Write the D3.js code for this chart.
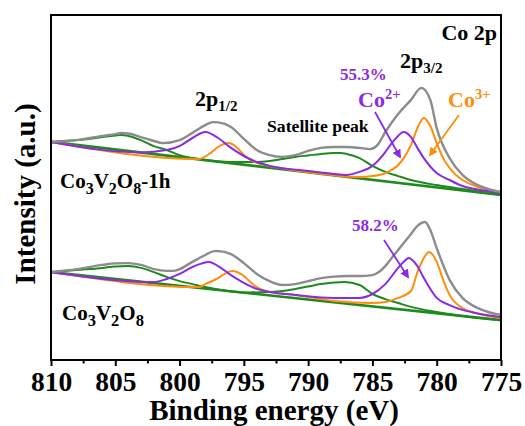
<!DOCTYPE html>
<html><head><meta charset="utf-8">
<script src="https://cdn.jsdelivr.net/npm/d3@7"></script>
<style>
html,body{margin:0;padding:0;background:#fff;}
svg{display:block;font-family:"Liberation Serif","Times New Roman",serif;font-weight:bold;}
</style></head>
<body>
<script>
// ---------- data (binding energy eV, intensity a.u.) ----------
const xTickValues = [810, 805, 800, 795, 790, 785, 780, 775];
const xMinorTicks = [807.5, 802.5, 797.5, 792.5, 787.5, 782.5, 777.5];

// Co3V2O8-1h (upper spectrum)
const topBackground = [[810, 72.7], [775, 55.0]];
const topGray = [[810,72.7],[808,73.3],[806,74.7],[805,75.3],[804.5,75.7],[804,75.5],[803,74.3],[802,73.0],[801.3,72.3],[800,73.3],[799,75.7],[798,78.3],[797.4,79.3],[797,79.2],[796,77.7],[795,73.7],[794,70.0],[793,68.3],[792,67.7],[791,68.3],[790,69.7],[789,70.7],[788,71.0],[787,71.0],[786,70.7],[785.2,70.3],[784.6,71.7],[784,76.0],[783,82.0],[782,86.7],[781.2,90.7],[780.5,86.7],[780,77.3],[779,67.3],[778,61.7],[777,58.7],[776,57.0],[775,56.0]];
const topPurple = [[810,72.7],[803,69.2],[801,70.0],[800,71.3],[799,74.0],[798,76.0],[797,74.0],[796,70.7],[795,68.0],[794,66.0],[793,64.7],[790,63.0],[788,62.0],[787,61.7],[786,62.7],[785,64.7],[784,69.3],[783.5,72.3],[783,74.7],[782.6,76.0],[782,74.3],[781.5,70.7],[781,67.3],[780,62.3],[779,60.0],[778,58.0],[777,57.0],[775,55.7]];
const topOrange = [[810,72.7],[798.5,67.0],[797.5,69.3],[797,71.0],[796.2,72.3],[795.5,70.7],[795,68.3],[794,65.7],[793,64.7],[790,62.6],[786,61.0],[785,61.3],[784,62.3],[783,65.0],[782.5,67.7],[782,71.7],[781.5,77.3],[781,80.7],[780.5,78.0],[780,72.3],[779.5,67.3],[779,64.0],[778,60.0],[777,58.0],[775,56.0]];
const topGreen = [[810,72.7],[808,73.3],[806,74.3],[805,74.8],[804.5,75.0],[804,74.7],[803,73.3],[802,71.3],[801,70.0],[800,68.3],[799,67.3],[797,66.2],[795,66.0],[794,66.0],[793,66.3],[792,67.0],[791,67.7],[790,68.2],[789,68.7],[788,69.0],[787.5,69.0],[787,68.7],[786,67.3],[785,64.7],[784,62.7],[783,61.3],[782,60.0],[780,58.3],[778,57.0],[775,55.3]];

// Co3V2O8 (lower spectrum)
const botBackground = [[810, 29.3], [775, 13.3]];
const botGray = [[810,29.3],[808,30.3],[806,31.7],[805,32.2],[804,32.3],[803,31.7],[802,30.3],[801,29.7],[800.5,29.7],[800,30.3],[799,32.7],[798,35.0],[797.3,36.3],[797,36.3],[796,35.3],[795,32.3],[794,28.7],[793,26.3],[792,25.0],[791,25.3],[790,26.3],[789,27.3],[788,27.8],[787,28.0],[786,28.0],[785,28.3],[784.5,29.3],[784,31.3],[783.5,34.0],[783,36.7],[782,42.0],[781.5,44.7],[780.9,46.0],[780.5,43.3],[780,37.3],[779,26.7],[778,20.7],[777,17.7],[776,16.0],[775,15.0]];
const botPurple = [[810,29.3],[802,26.0],[801,27.0],[800,28.7],[799,31.0],[798,32.5],[797.7,32.7],[797,31.3],[796,28.3],[795,25.7],[794,23.7],[793,22.7],[791,21.7],[788,20.7],[786,20.7],[785,22.0],[784,25.3],[783,30.7],[782.5,33.0],[782.2,34.0],[781.5,31.3],[781,27.3],[780,20.7],[779,18.3],[778,16.7],[777,15.7],[775,14.3]];
const botOrange = [[810,29.3],[798.5,24.3],[798,25.3],[797,27.3],[796.5,28.7],[795.9,29.7],[795,28.0],[794.5,26.0],[794,24.3],[793,22.7],[791,21.7],[788,19.7],[785,19.0],[784,19.3],[783,20.7],[782,23.0],[781.5,29.3],[781,34.0],[780.6,36.0],[780,32.7],[779.5,26.7],[779,21.7],[778,17.3],[777,15.7],[775,14.0]];
const botGreen = [[810,29.3],[808,30.0],[806,30.7],[805,31.2],[804,31.3],[803,30.7],[802,29.3],[801,27.7],[800,26.3],[799,25.3],[798,24.3],[795,22.5],[793,22.7],[792,23.0],[791,23.7],[790,24.5],[789,25.3],[788,25.8],[787.2,26.0],[786,25.0],[785,22.0],[784,20.3],[783,19.0],[782,17.7],[780,16.0],[778,14.7],[775,13.3]];

const colors = {gray:"#8c8c8c", purple:"#8a2be2", orange:"#ff8c0a", green:"#1e8a1e"};

// ---------- layout ----------
const W = 525, H = 426;
const m = {left:51, right:24, top:15, bottom:66};
const iw = W - m.left - m.right, ih = H - m.top - m.bottom;

const svg = d3.select("body").append("svg").attr("width", W).attr("height", H);
const x = d3.scaleLinear().domain([810, 775]).range([m.left, m.left + iw]);
const y = d3.scaleLinear().domain([0, 115]).range([m.top + ih, m.top]);

svg.append("clipPath").attr("id","clip").append("rect")
  .attr("x", m.left).attr("y", m.top).attr("width", iw).attr("height", ih);

const line = d3.line().x(d => x(d[0])).y(d => y(d[1])).curve(d3.curveMonotoneX);
const g = svg.append("g").attr("clip-path","url(#clip)");

function drawSpectrum(bg, green, orange, purple, gray) {
  g.append("path").datum(bg).attr("d", line).attr("fill","none").attr("stroke",colors.green).attr("stroke-width",2.6);
  g.append("path").datum(green).attr("d", line).attr("fill","none").attr("stroke",colors.green).attr("stroke-width",2);
  g.append("path").datum(orange).attr("d", line).attr("fill","none").attr("stroke",colors.orange).attr("stroke-width",2);
  g.append("path").datum(purple).attr("d", line).attr("fill","none").attr("stroke",colors.purple).attr("stroke-width",2);
  g.append("path").datum(gray).attr("d", line).attr("fill","none").attr("stroke",colors.gray).attr("stroke-width",2.4);
}
drawSpectrum(topBackground, topGreen, topOrange, topPurple, topGray);
drawSpectrum(botBackground, botGreen, botOrange, botPurple, botGray);

// ---------- axes ----------
const xAxis = d3.axisBottom(x).tickValues(xTickValues).tickSize(6).tickPadding(5).tickFormat(d3.format("d"));
const ax = svg.append("g").attr("transform",`translate(0,${m.top+ih})`).call(xAxis);
ax.select(".domain").remove();
ax.selectAll(".tick line").attr("stroke","#000").attr("stroke-width",2);
ax.selectAll(".tick text").attr("font-size",27.5).attr("font-weight","bold")
  .attr("font-family","'Liberation Serif','Times New Roman',serif").attr("fill","#000");
const axm = svg.append("g").attr("transform",`translate(0,${m.top+ih})`)
  .call(d3.axisBottom(x).tickValues(xMinorTicks).tickSize(3.5).tickFormat(""));
axm.select(".domain").remove();
axm.selectAll(".tick line").attr("stroke","#000").attr("stroke-width",2);

svg.append("rect").attr("x", m.left).attr("y", m.top).attr("width", iw).attr("height", ih)
  .attr("fill","none").attr("stroke","#000").attr("stroke-width",2);

svg.append("text").attr("x", 274).attr("y", 420).attr("text-anchor","middle")
  .attr("font-size",29).text("Binding energy (eV)");
svg.append("text").attr("transform","translate(35,194) rotate(-90)").attr("text-anchor","middle")
  .attr("font-size",29).text("Intensity (a.u.)");

// ---------- annotations ----------
function rich(t, parts, base, small, shift) {
  parts.forEach(p => {
    const ts = t.append("tspan").text(p[0]);
    if (p[1] === "sub") ts.attr("font-size", small).attr("dy", shift);
    else if (p[1] === "sup") ts.attr("font-size", small).attr("dy", -shift);
    else ts.attr("font-size", base).attr("dy", p[1]);
  });
}
const ann = svg.append("g");
ann.append("text").attr("x", 497).attr("y", 40).attr("text-anchor","end").attr("font-size",22).text("Co 2p");

let t = ann.append("text").attr("x", 400).attr("y", 68);
rich(t, [["2p",0],["3/2","sub"]], 22, 15, 5);
t = ann.append("text").attr("x", 195).attr("y", 106);
rich(t, [["2p",0],["1/2","sub"]], 22, 15, 5);

ann.append("text").attr("x", 340).attr("y", 80).attr("font-size",17).attr("fill",colors.purple).text("55.3%");
t = ann.append("text").attr("x", 358).attr("y", 107).attr("fill",colors.purple);
rich(t, [["Co",0],["2+","sup"]], 22, 14.5, 8);
t = ann.append("text").attr("x", 448).attr("y", 107).attr("fill",colors.orange);
rich(t, [["Co",0],["3+","sup"]], 22, 14.5, 8);

ann.append("text").attr("x", 267).attr("y", 132).attr("font-size",17.7).text("Satellite peak");
ann.append("text").attr("x", 352).attr("y", 231).attr("font-size",17).attr("fill",colors.purple).text("58.2%");

t = ann.append("text").attr("x", 60).attr("y", 188);
rich(t, [["Co",0],["3","sub"],["V",-6],["2","sub"],["O",-6],["8","sub"],["-1h",-6]], 21, 16, 6);
t = ann.append("text").attr("x", 62).attr("y", 320);
rich(t, [["Co",0],["3","sub"],["V",-6],["2","sub"],["O",-6],["8","sub"]], 21, 16.5, 6);

// arrows
const defs = svg.append("defs");
[["ap", colors.purple], ["ao", colors.orange]].forEach(([id, c]) => {
  defs.append("marker").attr("id", id).attr("viewBox","0 0 10 10").attr("refX",8).attr("refY",5)
    .attr("markerWidth",5).attr("markerHeight",5).attr("orient","auto")
    .append("path").attr("d","M0,0 L10,5 L0,10 z").attr("fill", c);
});
function arrow(x1,y1,x2,y2,c,id){
  ann.append("line").attr("x1",x1).attr("y1",y1).attr("x2",x2).attr("y2",y2)
    .attr("stroke",c).attr("stroke-width",1.8).attr("marker-end",`url(#${id})`);
}
arrow(375,112,400,157,colors.purple,"ap");
arrow(459,115,430,155,colors.orange,"ao");
arrow(384,240,408,277,colors.purple,"ap");
</script>
</body></html>
